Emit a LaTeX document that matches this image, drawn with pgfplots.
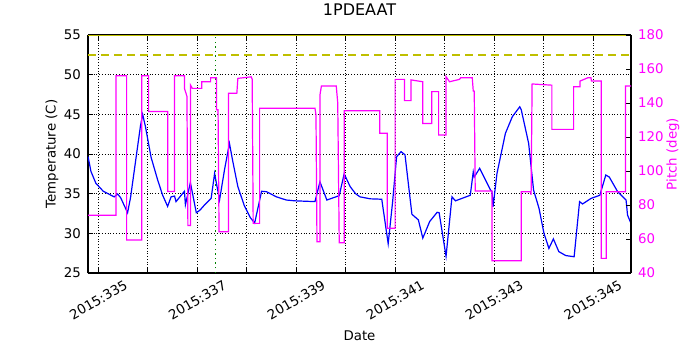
\documentclass[border=0pt]{standalone}
\usepackage{fontspec}
\setmainfont{DejaVu Sans}
\usepackage{pgfplots}
\pgfplotsset{compat=1.18}
\definecolor{tblue}{HTML}{0000FF}
\definecolor{pmag}{HTML}{FF00FF}
\definecolor{limy}{HTML}{BFBF00}
\definecolor{mgreen}{HTML}{008000}

\pgfplotsset{
  base/.style={
    at={(0,0)}, anchor=south west, scale only axis,
    width=271.5pt, height=119pt,
    xmin=334.79, xmax=345.77,
    tick align=inside, major tick length=2.5pt, minor tick length=2.5pt,
    /pgf/number format/assume math mode=true,
    tick style={black, line width=0.4pt},
    axis line style={line width=0.6pt},
  }
}

\begin{document}
\begin{tikzpicture}[font=\fontsize{6.67}{8}\selectfont]
\begin{axis}[base,
  ymin=25, ymax=55, ytick={25,30,...,55},
  xtick={335,337,...,345}, minor xtick={336,338,...,344},
  xticklabels={2015:335,2015:337,2015:339,2015:341,2015:343,2015:345},
  xticklabel style={rotate=30, anchor=center, xshift=-6.75pt, yshift=-11.7pt},
  grid=both, grid style={black, densely dotted, line width=0.35pt},
  minor grid style={black, densely dotted, line width=0.35pt},
  title={1PDEAAT},
  title style={font=\fontsize{8}{9.6}\selectfont, at={(0.5,1)}, anchor=center, yshift=6.5pt},
  xlabel={Date}, xlabel style={at={(0.5,0)}, anchor=center, yshift=-31.5pt},
  ylabel={Temperature (C)},
  ylabel style={at={(axis description cs:-0.0663,0.5)}, anchor=center},
  axis y line*=left, axis x line*=box,
]
\addplot[tblue, line width=0.6pt] coordinates {
(334.79,39.7)(334.85,37.8)(334.95,36.3)(335.1,35.3)(335.32,34.6)(335.39,34.95)
(335.45,34.5)(335.59,32.6)(335.65,34.5)(335.75,39)(335.85,43.5)(335.895,45.0)
(335.95,43.5)(336.065,39.6)(336.2,36.7)(336.3,34.8)(336.40,33.4)(336.47,34.6)
(336.54,34.7)(336.57,34.0)(336.74,35.3)(336.76,33.6)(336.86,36.4)(336.98,32.6)
(337.05,32.9)(337.15,33.6)(337.28,34.4)(337.35,37.55)(337.45,34.2)(337.55,38)
(337.65,41.35)(337.72,39)(337.82,35.9)(337.95,33.5)(338.07,32)(338.16,31.3)
(338.3,35.3)(338.4,35.25)(338.6,34.6)(338.8,34.2)(338.97,34.1)(339.38,34.0)
(339.48,36.5)(339.62,34.2)(339.87,34.75)(339.97,37.5)(340.09,35.9)(340.2,35.0)
(340.29,34.6)(340.5,34.35)(340.73,34.3)(340.86,28.7)(340.95,34)(341.03,39.65)
(341.12,40.3)(341.2,39.9)(341.34,32.4)(341.47,31.7)(341.56,29.4)(341.7,31.5)
(341.85,32.65)(341.89,32.6)(342.03,27.1)(342.15,34.6)(342.22,34.1)(342.52,34.8)
(342.58,37.75)(342.6,37.1)(342.71,38.2)(342.93,35.45)(342.96,35.25)(342.98,33.35)
(343.06,37.55)(343.23,42.6)(343.37,44.7)(343.52,45.95)(343.55,45.6)(343.70,41.35)
(343.8,35.45)(343.91,33.15)(344.01,30.0)(344.11,28.1)(344.2,29.3)(344.31,27.7)
(344.45,27.2)(344.62,27.05)(344.73,34.0)(344.79,33.7)(344.96,34.4)(345.14,34.8)
(345.26,37.35)(345.33,37.1)(345.5,35.25)(345.67,34.2)(345.7,32.3)(345.77,31.25)
};
\addplot[limy, line width=1.1pt, dash pattern=on 4pt off 2.5pt] coordinates {(334.79,52.5)(345.77,52.5)};
\addplot[limy, line width=1.1pt] coordinates {(334.79,55)(345.77,55)};
\addplot[mgreen, line width=0.7pt, dash pattern=on 0.7pt off 1.6pt] coordinates {(337.37,25)(337.37,55)};
\end{axis}
\begin{axis}[base,
  ymin=40, ymax=180, ytick={40,60,...,180},
  axis y line*=right, axis x line=none,
  yticklabel style={pmag},
  ylabel={Pitch (deg)},
  ylabel style={pmag, at={(axis description cs:1.0773,0.5)}, anchor=center},
]
\addplot[pmag, line width=0.6pt] coordinates {
(334.79,74)(335.355,74)(335.355,156)(335.571,156)(335.571,59.4)(335.875,59.4)
(335.875,156)(336.016,156)(336.016,135)(336.402,135)(336.402,88)(336.538,88)
(336.538,156)(336.74,156)(336.74,148.6)(336.79,144)(336.81,68)(336.862,68)
(336.862,150.6)(336.9,148.6)(337.09,148.6)(337.09,152.5)(337.27,152.5)(337.27,154.9)
(337.39,154.9)(337.39,136)(337.42,136)(337.44,64.3)(337.63,64.3)(337.63,145.7)
(337.80,145.7)(337.82,154.5)(338.09,155.4)(338.11,154)(338.13,69.2)(338.26,69.2)
(338.26,136.9)(339.38,136.9)(339.40,133)(339.42,58.4)(339.48,58.4)(339.48,144.7)
(339.51,150)(339.81,150)(339.84,140)(339.87,57.8)(339.97,57.8)(339.97,135.5)
(340.69,135.5)(340.69,122.2)(340.84,122.2)(340.84,66.3)(341.0,66.3)(341.0,153.9)
(341.19,153.9)(341.19,141.4)(341.32,141.4)(341.32,153.6)(341.56,152.5)(341.56,128)
(341.74,128)(341.74,146.7)(341.88,146.7)(341.88,121.2)(342.03,121.2)(342.03,155.5)
(342.1,152.5)(342.3,153.9)(342.33,154.9)(342.56,154.9)(342.58,147.1)(342.6,147)
(342.62,88.2)(342.96,88.2)(342.96,47.2)(343.55,47.2)(343.55,87.8)(343.74,87.8)
(343.75,86)(343.77,151.2)(344.17,150.5)(344.17,124.5)(344.61,124.5)(344.61,149.6)
(344.74,149.6)(344.74,152.9)(344.9,154.9)(344.96,154.9)(344.97,153)(345.17,153)
(345.17,48.6)(345.27,48.6)(345.27,87.8)(345.66,87.8)(345.66,150)(345.77,150)
};
\end{axis}
\pgfresetboundingbox
\path[use as bounding box] (-44pt,-38.5pt) rectangle (306pt,136.5pt);
\end{tikzpicture}
\end{document}
